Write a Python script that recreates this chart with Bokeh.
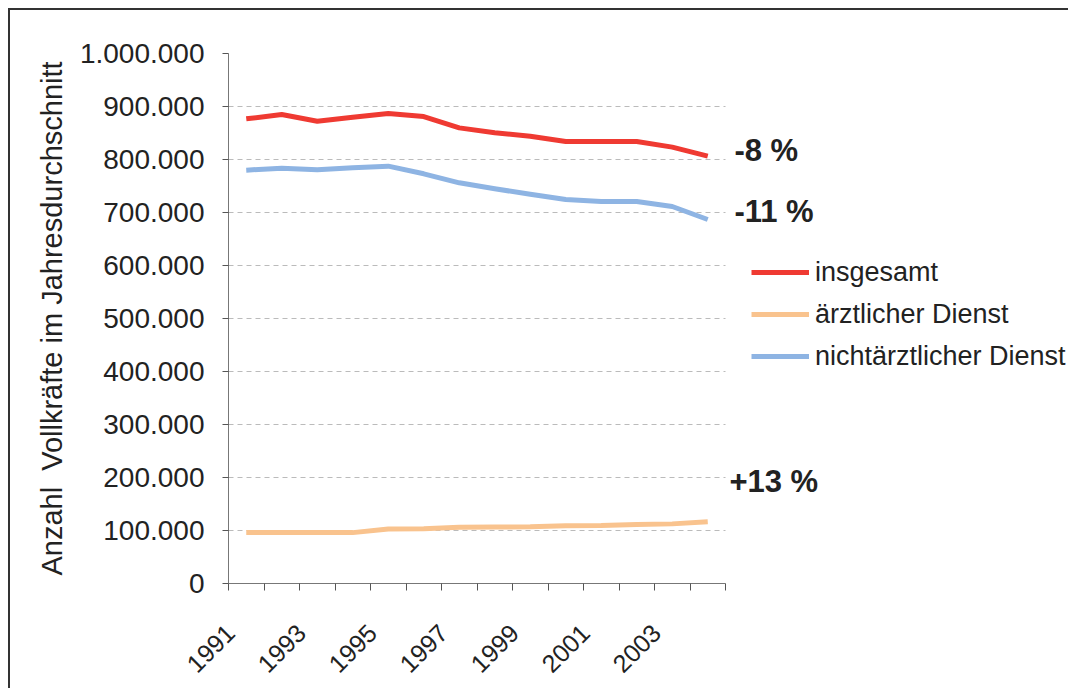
import math
from bokeh.plotting import figure
from bokeh.models import (Range1d, FixedTicker, CustomJSTickFormatter, Label,
                          Legend, LegendItem)
from bokeh.embed import file_html
from bokeh.resources import INLINE

years = list(range(1991, 2005))
insgesamt = [876700, 884900, 872300, 879900, 886800, 881100, 859700,
             850300, 844000, 834000, 834000, 834000, 823300, 806300]
aerztlich = [96000, 96000, 96000, 96000, 103000, 103500, 106000,
             106500, 107000, 109000, 109500, 111500, 112500, 116500]
nichtaerztlich = [779900, 783600, 780500, 784300, 787400, 773000, 756000,
                  744700, 734600, 724500, 720800, 720800, 711300, 686800]
series_names = ["insgesamt", "ärztlicher Dienst", "nichtärztlicher Dienst"]
change_labels = ["-8 %", "-11 %", "+13 %"]
y_ticks = list(range(0, 1000001, 100000))
x_label_years = [1991, 1993, 1995, 1997, 1999, 2001, 2003]

FONT = "Liberation Sans"
RED = "#EF3A32"
ORANGE = "#F9C38E"
BLUE = "#8EB4E3"

xs = [y - years[0] for y in years]
n = len(years)

W, H = 1060, 680
LEFT = 218          # canvas px to plot frame
RIGHT = 0
CAT = 35.5          # px per category
x_end = -0.5 + (W - LEFT - RIGHT) / CAT

p = figure(width=W, height=H, output_backend="svg", toolbar_location=None,
           x_range=Range1d(-0.5, x_end), y_range=Range1d(0, 1000000),
           min_border_left=LEFT, min_border_right=RIGHT, min_border_top=43,
           min_border_bottom=H - 573)
p.outline_line_color = None
p.background_fill_color = "white"
p.border_fill_color = "white"
p.styles = {"margin-left": "10px", "margin-top": "10px",
            "vertical-align": "top",
            "box-shadow": "-2px -2px 0px 0px #333333"}

r1 = p.line(xs, insgesamt, line_color=RED, line_width=5, line_join="round")
r2 = p.line(xs, aerztlich, line_color=ORANGE, line_width=5, line_join="round")
r3 = p.line(xs, nichtaerztlich, line_color=BLUE, line_width=5, line_join="round")

# Y axis
yax = p.yaxis[0]
yax.ticker = FixedTicker(ticks=y_ticks, minor_ticks=[])
yax.formatter = CustomJSTickFormatter(code="""
return Math.round(tick).toString().replace(/\\B(?=(\\d{3})+(?!\\d))/g, ".");
""")
yax.major_label_text_font = FONT
yax.major_label_text_font_size = "28px"
yax.major_label_text_color = "#222222"
yax.major_tick_out = 6
yax.major_tick_in = 0
yax.major_tick_line_color = "#555555"
yax.axis_line_color = "#777777"
yax.major_label_standoff = 18
yax.axis_label = "Anzahl\u00a0 Vollkräfte im Jahresdurchschnitt"
yax.axis_label_text_font = FONT
yax.axis_label_text_font_style = "normal"
yax.axis_label_text_font_size = "29px"
yax.axis_label_text_color = "#222222"
yax.axis_label_standoff = 9

# X axis (labels sit a little left of the category centre, as in the original)
xax = p.xaxis[0]
label_pos = [y - years[0] - 0.45 for y in x_label_years]
xax.bounds = (-0.5, n - 0.5)
xax.ticker = FixedTicker(ticks=label_pos,
                         minor_ticks=[i - 0.5 for i in range(n + 1)])
xax.major_label_overrides = {pos: str(y) for pos, y in zip(label_pos, x_label_years)}
xax.major_tick_out = 0
xax.major_tick_in = 0
xax.minor_tick_out = 7
xax.minor_tick_in = 0
xax.minor_tick_line_color = "#555555"
xax.axis_line_color = "#777777"
xax.major_label_orientation = math.pi / 4
xax.major_label_text_font = FONT
xax.major_label_text_font_size = "25px"
xax.major_label_text_color = "#222222"
xax.major_label_standoff = 38

# Grid
p.xgrid.visible = False
p.ygrid.grid_line_color = "#BBBBBB"
p.ygrid.grid_line_dash = "5 4"
p.ygrid.grid_line_width = 1
p.ygrid.cross_bounds = (-0.5, n - 0.5)

# Change labels
label_y = [817000, 702000, 192000]
label_x = [13.75, 13.75, 13.61]
for txt, lx, ly in zip(change_labels, label_x, label_y):
    p.add_layout(Label(x=lx, y=ly, text=txt, text_font=FONT,
                       text_font_size="31px", text_font_style="bold",
                       text_color="#222222", text_baseline="middle",
                       text_align="left"))

# Legend
legend = Legend(items=[LegendItem(label=series_names[0], renderers=[r1]),
                       LegendItem(label=series_names[1], renderers=[r2]),
                       LegendItem(label=series_names[2], renderers=[r3])],
                location=(523, 206), padding=0, margin=0, spacing=0,
                glyph_width=58, glyph_height=42, label_height=42,
                label_standoff=6, label_text_font=FONT,
                label_text_font_size="27px", label_text_color="#222222",
                border_line_color=None, background_fill_alpha=0)
p.add_layout(legend, "center")

open("out.html", "w").write(file_html(p, INLINE))
